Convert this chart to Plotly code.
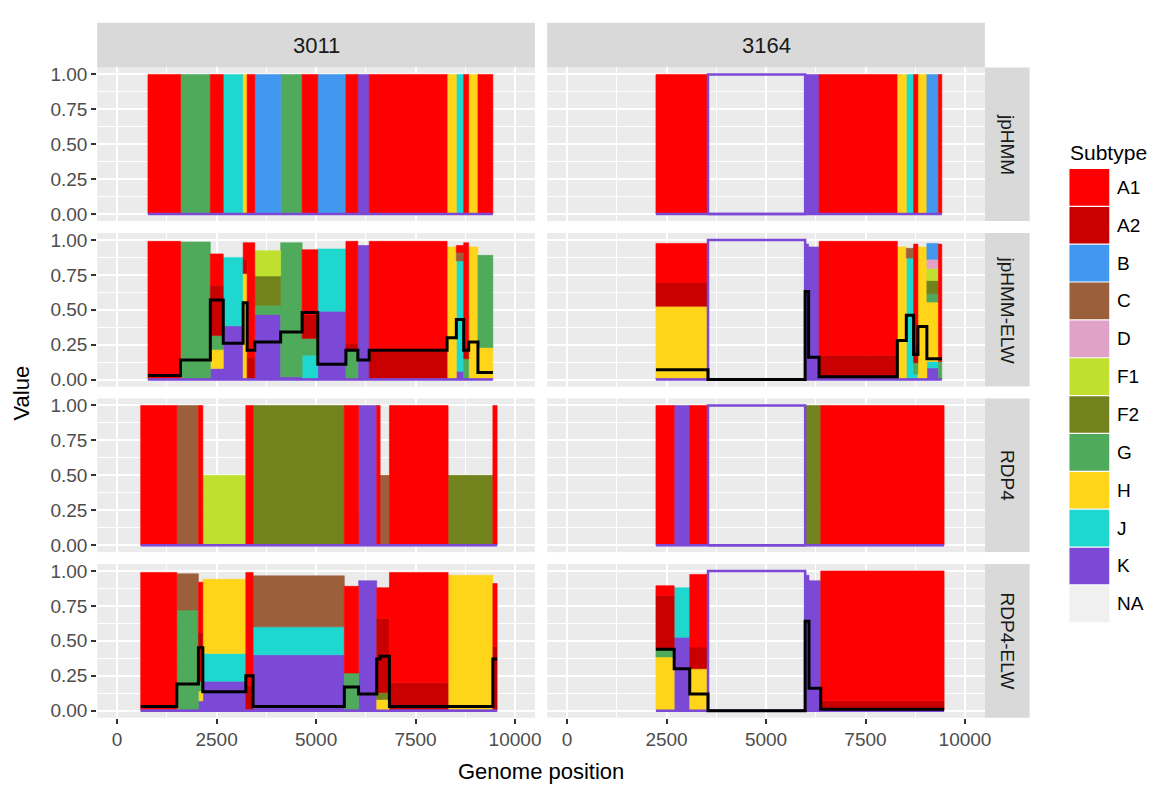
import plotly.graph_objects as go
from plotly.subplots import make_subplots

W, H = 1164, 793

SUBTYPES = ["A1", "A2", "B", "C", "D", "F1", "F2", "G", "H", "J", "K", "NA"]
SUBTYPE_COLORS = ["#FF0000", "#C90000", "#4297EE", "#9C5F3B", "#E0A2C6", "#BFE02E",
                  "#72821C", "#4FAA5B", "#FFD51A", "#1ED7CE", "#7B49D5", "#F0F0F0"]
# ggplot stacks the first factor level on top, so K sits at the bottom
STACK_ORDER = ["K", "J", "H", "G", "F2", "F1", "D", "C", "B", "A2", "A1"]

SAMPLES = ["3011", "3164"]
METHODS = ["jpHMM", "jpHMM-ELW", "RDP4", "RDP4-ELW"]

# --- jpHMM calls -------------------------------------------------------------
JPHMM_3011_BREAKS = [775, 1593, 2343, 2668, 3168, 3268, 3460, 4110, 4650, 5043,
                     5750, 6050, 6335, 8293, 8525, 8710, 8835, 9068, 9443]
JPHMM_3011_CALLS = ["A1", "G", "A1", "J", "H", "A1", "B", "G", "A1", "B",
                    "A1", "K", "A1", "H", "J", "A1", "H", "A1"]

JPHMM_3164_BREAKS = [2233, 3542, 5983, 6333, 8292, 8525, 8708, 8817, 9042, 9333, 9417]
JPHMM_3164_CALLS = ["A1", "NA", "K", "A1", "H", "J", "A1", "H", "B", "A1"]

# --- jpHMM-ELW weights --------------------------------------------------------
JPHMM_ELW_3011_BREAKS = JPHMM_3011_BREAKS
JPHMM_ELW_3011_WEIGHTS = [
    {"K": 0.01, "A1": 0.98},
    {"K": 0.01, "G": 0.975},
    {"K": 0.08, "H": 0.135, "G": 0.10, "A2": 0.36, "A1": 0.225},
    {"K": 0.385, "J": 0.49},
    {"K": 0.01, "H": 0.75, "A2": 0.10, "A1": 0.12},
    {"K": 0.01, "A2": 0.15, "A1": 0.82},
    {"K": 0.466, "G": 0.066, "F2": 0.21, "F1": 0.18},
    {"K": 0.02, "G": 0.96},
    {"K": 0.01, "J": 0.165, "G": 0.12, "A2": 0.17, "A1": 0.465},
    {"K": 0.49, "J": 0.445},
    {"K": 0.01, "G": 0.20, "A2": 0.05, "A1": 0.73},
    {"K": 0.96},
    {"K": 0.01, "A2": 0.19, "A1": 0.79},
    {"K": 0.01, "H": 0.94},
    {"K": 0.06, "J": 0.79, "C": 0.06, "A1": 0.05},
    {"K": 0.01, "G": 0.14, "A2": 0.05, "A1": 0.78},
    {"K": 0.01, "H": 0.94},
    {"K": 0.01, "H": 0.22, "G": 0.66},
]
JPHMM_ELW_3011_LINE = [0.03, 0.14, 0.57, 0.26, 0.55, 0.21, 0.27, 0.34, 0.48,
                       0.11, 0.21, 0.14, 0.21, 0.30, 0.43, 0.21, 0.27, 0.05]

JPHMM_ELW_3164_BREAKS = [2233, 3542, 5983, 6070, 6333, 8300, 8525, 8708, 8817, 9042, 9333, 9417]
JPHMM_ELW_3164_WEIGHTS = [
    {"K": 0.01, "H": 0.515, "A2": 0.17, "A1": 0.28},
    {"NA": 1.0},
    {"K": 0.97},
    {"K": 0.95},
    {"K": 0.01, "A2": 0.165, "A1": 0.815},
    {"K": 0.01, "H": 0.94},
    {"K": 0.01, "J": 0.86, "C": 0.07},
    {"K": 0.01, "J": 0.03, "G": 0.08, "A2": 0.13, "A1": 0.72},
    {"K": 0.01, "H": 0.94},
    {"K": 0.083, "J": 0.047, "H": 0.425, "G": 0.059, "F2": 0.095, "F1": 0.087, "D": 0.066, "B": 0.113},
    {"K": 0.01, "G": 0.12, "A1": 0.84},
]
JPHMM_ELW_3164_LINE = [0.07, 0.0, 0.63, 0.16, 0.02, 0.28, 0.46, 0.18, 0.38, 0.15, 0.15]

# --- RDP4 calls ---------------------------------------------------------------
RDP4_3011_BREAKS = [593, 1500, 2043, 2155, 3235, 3418, 5710, 6068, 6525, 6610, 6843, 8318, 9443, 9550]
RDP4_3011_CALLS = ["A1", "C", "A1", "F1", "A1", "F2", "A1", "K", "A1", "C", "A1", "F2", "A1"]
RDP4_3011_SUPPORT = [1, 1, 1, 0.5, 1, 1, 1, 1, 1, 0.5, 1, 0.5, 1]

RDP4_3164_BREAKS = [2233, 2692, 3083, 3542, 5983, 6375, 9475]
RDP4_3164_CALLS = ["A1", "K", "A1", "NA", "F2", "A1"]

# --- RDP4-ELW weights ---------------------------------------------------------
RDP4_ELW_3011_BREAKS = RDP4_3011_BREAKS
RDP4_ELW_3011_WEIGHTS = [
    {"K": 0.01, "A1": 0.98},
    {"K": 0.01, "G": 0.71, "C": 0.26},
    {"K": 0.07, "H": 0.07, "G": 0.07, "A2": 0.35, "A1": 0.36},
    {"K": 0.21, "J": 0.20, "H": 0.53},
    {"K": 0.01, "A2": 0.17, "A1": 0.81},
    {"K": 0.40, "J": 0.20, "C": 0.365},
    {"K": 0.01, "G": 0.26, "A1": 0.62},
    {"K": 0.93},
    {"K": 0.005, "H": 0.075, "F2": 0.05, "A2": 0.53, "A1": 0.22},
    {"K": 0.005, "H": 0.075, "F2": 0.05, "A2": 0.53, "A1": 0.22},
    {"K": 0.01, "A2": 0.19, "A1": 0.79},
    {"K": 0.01, "H": 0.96},
    {"K": 0.01, "A2": 0.45, "A1": 0.45},
]
RDP4_ELW_3011_LINE = [0.03, 0.19, 0.45, 0.135, 0.25, 0.03, 0.17, 0.12, 0.37, 0.39, 0.03, 0.03, 0.37]

RDP4_ELW_3164_BREAKS = [2233, 2692, 3083, 3542, 5983, 6080, 6375, 9475]
RDP4_ELW_3164_WEIGHTS = [
    {"K": 0.005, "H": 0.38, "G": 0.055, "A2": 0.385, "A1": 0.07},
    {"K": 0.525, "J": 0.355},
    {"K": 0.005, "H": 0.295, "A2": 0.155, "A1": 0.52},
    {"NA": 1.0},
    {"K": 0.97},
    {"K": 0.93},
    {"K": 0.005, "A2": 0.065, "A1": 0.93},
]
RDP4_ELW_3164_LINE = [0.44, 0.30, 0.12, 0.0, 0.64, 0.16, 0.01]

X_TICKS = [0, 2500, 5000, 7500, 10000]
X_TICK_TEXT = ["0", "2500", "5000", "7500", "10000"]
Y_TICKS = [0, 0.25, 0.5, 0.75, 1.0]
Y_TICK_TEXT = ["0.00", "0.25", "0.50", "0.75", "1.00"]

COLOR = dict(zip(SUBTYPES, SUBTYPE_COLORS))
FONT = "Liberation Sans, Arial, sans-serif"


def calls_to_weights(calls, support=None):
    support = support or [1] * len(calls)
    return [{c: s} for c, s in zip(calls, support)]


PANELS = {
    ("jpHMM", "3011"): (JPHMM_3011_BREAKS, calls_to_weights(JPHMM_3011_CALLS), None),
    ("jpHMM", "3164"): (JPHMM_3164_BREAKS, calls_to_weights(JPHMM_3164_CALLS), None),
    ("jpHMM-ELW", "3011"): (JPHMM_ELW_3011_BREAKS, JPHMM_ELW_3011_WEIGHTS, JPHMM_ELW_3011_LINE),
    ("jpHMM-ELW", "3164"): (JPHMM_ELW_3164_BREAKS, JPHMM_ELW_3164_WEIGHTS, JPHMM_ELW_3164_LINE),
    ("RDP4", "3011"): (RDP4_3011_BREAKS, calls_to_weights(RDP4_3011_CALLS, RDP4_3011_SUPPORT), None),
    ("RDP4", "3164"): (RDP4_3164_BREAKS, calls_to_weights(RDP4_3164_CALLS), None),
    ("RDP4-ELW", "3011"): (RDP4_ELW_3011_BREAKS, RDP4_ELW_3011_WEIGHTS, RDP4_ELW_3011_LINE),
    ("RDP4-ELW", "3164"): (RDP4_ELW_3164_BREAKS, RDP4_ELW_3164_WEIGHTS, RDP4_ELW_3164_LINE),
}

# pixel layout of the facet grid
COL_PX = [(97.7, 537.7), (550, 990)]
ROW_PX = [(65, 220), (232, 387), (399, 554), (566, 721)]
STRIP_TOP_PX = (20, 65)
STRIP_RIGHT_PX = (990, 1035)


def px_x(px):
    return px / W


def px_y(py):
    return 1 - py / H


def add_panel(fig, row, col, breaks, weights, line):
    base = [0.0] * len(weights)
    for st in STACK_ORDER:
        xs, ys = [], []
        for i, w in enumerate(weights):
            v = w.get(st, 0)
            if v <= 0:
                continue
            x0, x1 = breaks[i], breaks[i + 1]
            y0, y1 = base[i], base[i] + v
            xs += [x0, x1, x1, x0, x0, None]
            ys += [y0, y0, y1, y1, y0, None]
            base[i] = y1
        if xs:
            fig.add_trace(go.Scatter(x=xs, y=ys, mode="lines", fill="toself",
                                     fillcolor=COLOR[st], line=dict(color=COLOR[st], width=0.6),
                                     hoverinfo="skip", showlegend=False), row=row, col=col)
    # NA stretches are only outlined
    xs, ys = [], []
    for i, w in enumerate(weights):
        v = w.get("NA", 0)
        if v > 0:
            x0, x1 = breaks[i], breaks[i + 1]
            xs += [x0, x0, x1, x1, x0, None]
            ys += [0, v, v, 0, 0, None]
    if xs:
        fig.add_trace(go.Scatter(x=xs, y=ys, mode="lines", line=dict(color=COLOR["K"], width=2.5),
                                 hoverinfo="skip", showlegend=False), row=row, col=col)
    # K area outline along zero
    fig.add_trace(go.Scatter(x=[breaks[0], breaks[-1]], y=[0, 0], mode="lines",
                             line=dict(color=COLOR["K"], width=2.5),
                             hoverinfo="skip", showlegend=False), row=row, col=col)
    if line:
        fig.add_trace(go.Scatter(x=breaks, y=line + [line[-1]], mode="lines",
                                 line=dict(color="black", width=3, shape="hv"),
                                 hoverinfo="skip", showlegend=False), row=row, col=col)


fig = make_subplots(rows=4, cols=2)

for r, method in enumerate(METHODS, start=1):
    for c, sample in enumerate(SAMPLES, start=1):
        breaks, weights, line = PANELS[(method, sample)]
        add_panel(fig, r, c, breaks, weights, line)
        x0, x1 = COL_PX[c - 1]
        y0, y1 = ROW_PX[r - 1]
        bottom = r == len(METHODS)
        left = c == 1
        fig.update_xaxes(domain=[px_x(x0), px_x(x1)], range=[-500, 10500],
                         tickvals=X_TICKS, ticktext=X_TICK_TEXT, showticklabels=bottom,
                         ticks="outside" if bottom else "", ticklen=5, tickwidth=1.5,
                         tickcolor="#333333", tickfont=dict(size=19, color="#4D4D4D", family=FONT),
                         showgrid=True, gridcolor="white", gridwidth=2.2, zeroline=False,
                         showline=False,
                         minor=dict(tickmode="array", tickvals=[1250, 3750, 6250, 8750],
                                    showgrid=True, gridcolor="white", gridwidth=1.1, ticks=""),
                         row=r, col=c)
        fig.update_yaxes(domain=[px_y(y1), px_y(y0)], range=[-0.05, 1.05],
                         tickvals=Y_TICKS, ticktext=Y_TICK_TEXT, showticklabels=left,
                         ticks="outside" if left else "", ticklen=5, tickwidth=1.5,
                         tickcolor="#333333", tickfont=dict(size=19, color="#4D4D4D", family=FONT),
                         showgrid=True, gridcolor="white", gridwidth=2.2, zeroline=False,
                         showline=False,
                         minor=dict(tickmode="array", tickvals=[0.125, 0.375, 0.625, 0.875],
                                    showgrid=True, gridcolor="white", gridwidth=1.1, ticks=""),
                         row=r, col=c)

shapes = []
annotations = []


def label(text, x, y, size, color="#1A1A1A", angle=0, xanchor="center"):
    return dict(text=text, xref="paper", yref="paper", x=x, y=y, xanchor=xanchor,
                yanchor="middle", textangle=angle, showarrow=False,
                font=dict(size=size, color=color, family=FONT))


# facet strips
for c, sample in enumerate(SAMPLES):
    x0, x1 = COL_PX[c]
    shapes.append(dict(type="rect", xref="paper", yref="paper", x0=px_x(x0), x1=px_x(x1),
                       y0=px_y(STRIP_TOP_PX[1]), y1=px_y(STRIP_TOP_PX[0]),
                       fillcolor="#D9D9D9", line=dict(width=0), layer="below"))
    annotations.append(label(sample, px_x((x0 + x1) / 2), px_y(sum(STRIP_TOP_PX) / 2), 22))
for r, method in enumerate(METHODS):
    y0, y1 = ROW_PX[r]
    shapes.append(dict(type="rect", xref="paper", yref="paper", x0=px_x(STRIP_RIGHT_PX[0]),
                       x1=px_x(STRIP_RIGHT_PX[1]), y0=px_y(y1), y1=px_y(y0),
                       fillcolor="#D9D9D9", line=dict(width=0), layer="below"))
    annotations.append(label(method, px_x(sum(STRIP_RIGHT_PX) / 2), px_y((y0 + y1) / 2), 19,
                             angle=90))

# axis titles
annotations.append(label("Genome position", px_x((COL_PX[0][0] + COL_PX[1][1]) / 2), px_y(775),
                         22, color="black"))
annotations.append(label("Value", px_x(22), px_y((ROW_PX[0][0] + ROW_PX[-1][1]) / 2), 22,
                         color="black", angle=-90))

# legend drawn by hand to get ggplot-sized keys
annotations.append(label("Subtype", px_x(1074), px_y(151), 21, color="black", xanchor="left"))
key_top, key_step = 167.5, 38.2
for i, st in enumerate(SUBTYPES):
    ky0 = key_top + i * key_step
    ky1 = ky0 + key_step - 1.2
    shapes.append(dict(type="rect", xref="paper", yref="paper", x0=px_x(1075), x1=px_x(1115),
                       y0=px_y(ky1), y1=px_y(ky0), fillcolor=COLOR[st], line=dict(width=0)))
    annotations.append(label(st, px_x(1121), px_y((ky0 + ky1) / 2), 19, color="black",
                             xanchor="left"))

fig.update_layout(width=W, height=H, margin=dict(l=0, r=0, t=0, b=0),
                  paper_bgcolor="white", plot_bgcolor="#EBEBEB",
                  shapes=shapes, annotations=annotations, showlegend=False,
                  font=dict(family=FONT))

fig.write_html("out.html", config={"displayModeBar": False},
               post_script="document.body.style.margin='0';")
